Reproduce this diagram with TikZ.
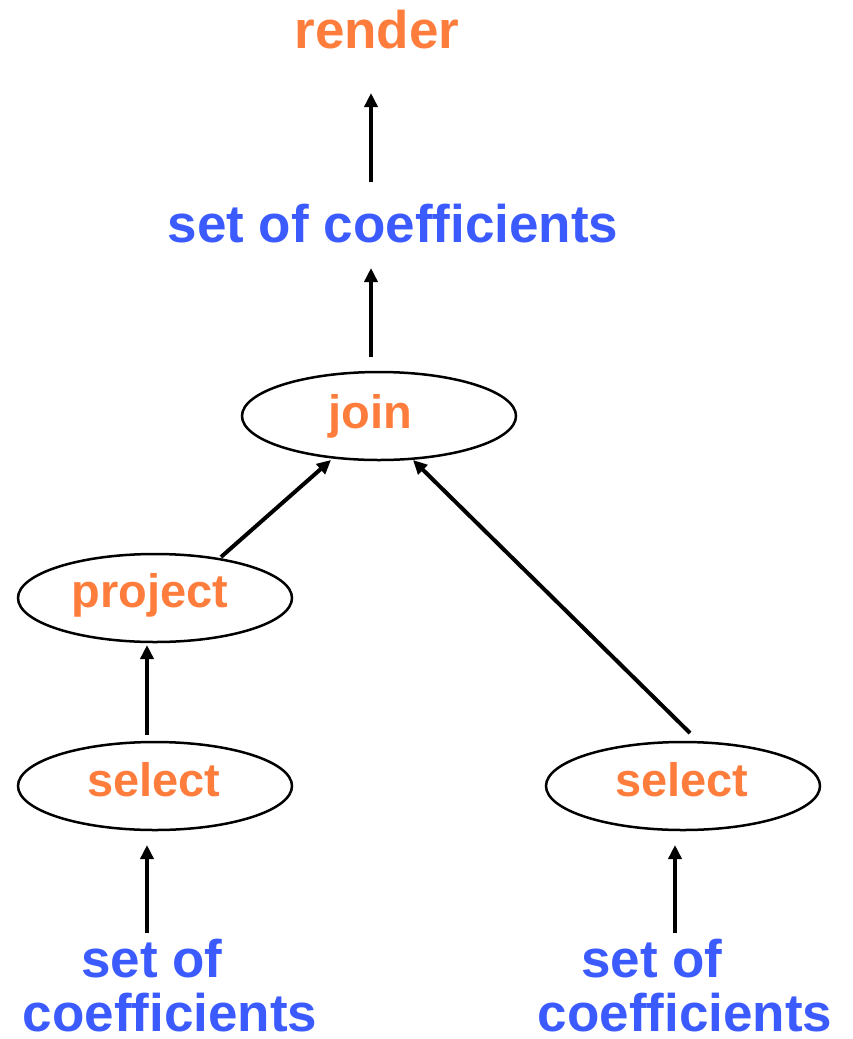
\documentclass[tikz,border=0pt]{standalone}
\usepackage{fontspec}
\setmainfont{Liberation Sans}
\usetikzlibrary{arrows.meta,shapes.geometric}
\definecolor{lblorange}{RGB}{255,125,60}
\definecolor{lblblue}{RGB}{59,91,255}
\begin{document}
\begin{tikzpicture}[x=1pt,y=-1pt,
  big/.style={font=\fontsize{53}{60}\selectfont\bfseries, inner sep=0pt, anchor=base},
  small/.style={font=\fontsize{47}{54}\selectfont\bfseries, inner sep=0pt, anchor=base},
  op/.style={draw, line width=2.5pt, ellipse, minimum width=274pt, minimum height=88pt, inner sep=0pt},
  flow/.style={line width=4pt, -{Triangle[length=14pt,width=13pt]}, shorten >=0pt}]
\useasboundingbox (0,0) rectangle (853,1039);
% ellipses
\node[op] (join) at (379,416) {};
\node[op] (project) at (155,598) {};
\node[op] (selL) at (155,786) {};
\node[op] (selR) at (683,786) {};
% labels
\node[big, text=lblorange] (render) at (377,48) {render};
\node[big, text=lblblue] (soc) at (393,242) {set of coefficients};
\node[small, text=lblorange] (joint) at (370,428) {join};
\node[small, text=lblorange] (projt) at (150,607) {project};
\node[small, text=lblorange] (selLt) at (154,796) {select};
\node[small, text=lblorange] (selRt) at (682,796) {select};
\node[big, text=lblblue] (socL1) at (152,977) {set of};
\node[big, text=lblblue] (socL2) at (170,1031) {coefficients};
\node[big, text=lblblue] (socR1) at (652,977) {set of};
\node[big, text=lblblue] (socR2) at (685,1031) {coefficients};
% connector endpoints
\coordinate (a1) at (371,182); \coordinate (a2) at (371,93);
\coordinate (b1) at (371,357); \coordinate (b2) at (371,268);
\coordinate (c1) at (221,557); \coordinate (c2) at (331,460);
\coordinate (d1) at (690,733); \coordinate (d2) at (413,460);
\coordinate (e1) at (147,735); \coordinate (e2) at (147,645);
\coordinate (f1) at (147,933); \coordinate (f2) at (147,845);
\coordinate (g1) at (675,933); \coordinate (g2) at (675,845);
\draw[flow] (a1) -- (a2);
\draw[flow] (b1) -- (b2);
\draw[flow] (c1) -- (c2);
\draw[flow] (d1) -- (d2);
\draw[flow] (e1) -- (e2);
\draw[flow] (f1) -- (f2);
\draw[flow] (g1) -- (g2);
\end{tikzpicture}
\end{document}
